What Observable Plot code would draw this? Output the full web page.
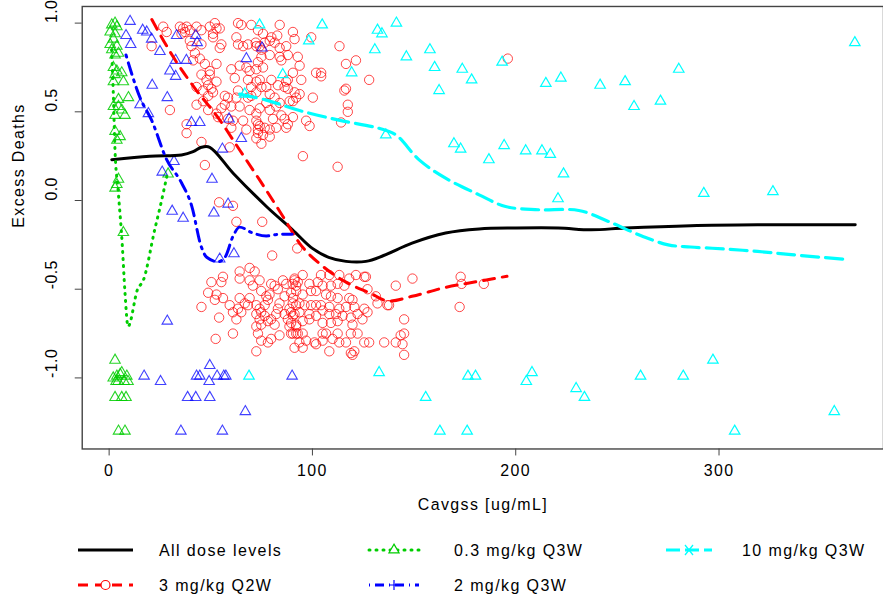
<!DOCTYPE html>
<html><head><meta charset="utf-8">
<script src="https://cdn.jsdelivr.net/npm/d3@7"></script>
<script src="https://cdn.jsdelivr.net/npm/@observablehq/plot@0.6"></script>
<style>
body{margin:0;background:#fff;overflow:hidden;font-family:"Liberation Sans",Arial,sans-serif}
#wrap{position:relative;width:883px;height:596px;overflow:hidden}
#chart{position:absolute;left:0;top:0}
#legend{position:absolute;left:0;top:530px}
</style></head><body><div id="wrap"><div id="chart"></div><svg id="legend" width="883" height="66"></svg></div>
<script>
// ---- data (x = Cavgss ug/mL, y = excess deaths) ----
const xTicks = [0, 100, 200, 300];
const yTicks = [-1, -0.5, 0, 0.5, 1];

const pts3Q2W = [
[26.6,0.98],[28.3,0.95],[34.8,0.98],[36.4,0.97],[38.1,0.98],[35.6,0.94],[37.3,0.95],[39.7,0.96],[43.0,0.98],[45.4,0.96],[49.5,0.98],[52.0,1.0],[52.8,0.97],[51.1,0.94],[54.4,0.97],[63.4,1.0],[65.0,0.99],[69.9,0.99],
[20.9,0.87],[39.7,0.90],[40.5,0.87],[45.4,0.88],[51.1,0.92],[55.2,0.88],[54.4,0.86],[62.6,0.92],[63.4,0.88],[65.9,0.87],[68.3,0.88],[72.1,0.89],
[42.2,0.83],[41.3,0.79],[44.6,0.80],[47.1,0.77],[52.8,0.77],[60.1,0.74],[64.2,0.76],[67.5,0.75],[69.1,0.73],[49.5,0.73],
[45.4,0.71],[49.5,0.71],[47.9,0.68],[48.7,0.65],[50.3,0.63],[52.8,0.67],[61.8,0.69],[63.4,0.62],[68.3,0.68],[69.9,0.64],[72.4,0.67],[43.0,0.64],
[46.2,0.62],[48.7,0.59],[51.1,0.61],[56.9,0.59],[58.5,0.58],[62.6,0.58],[69.9,0.59],[68.3,0.58],
[43.0,0.54],[46.2,0.56],[48.7,0.51],[52.8,0.49],[55.2,0.52],[56.9,0.54],[60.1,0.53],[64.2,0.53],[69.1,0.51],[72.4,0.49],
[29.9,0.51],[53.6,0.47],[58.5,0.46],[60.9,0.45],[65.9,0.45],[72.4,0.45],[73.2,0.43],
[38.1,0.43],[38.1,0.38],[60.1,0.41],[67.5,0.40],[73.2,0.40],[45.4,0.33],[59.3,0.30],[47.1,0.20],
[73.2,0.96],[83.9,0.99],[75.7,0.94],[79.8,0.92],[79.0,0.90],[81.4,0.89],[82.7,0.93],[90.4,0.95],[91.2,0.91],[99.4,0.92],
[72.4,0.87],[74.1,0.87],[76.5,0.89],[74.9,0.85],[87.1,0.87],[83.9,0.86],[83.9,0.81],[84.7,0.79],[87.9,0.82],[92.8,0.81],
[93.7,0.76],[74.9,0.81],[79.0,0.82],[73.2,0.78],[75.7,0.75],[72.4,0.74],[90.4,0.72],[101.8,0.72],[104.3,0.72],[104.3,0.70],
[94.5,0.68],[87.9,0.68],[87.1,0.67],[79.8,0.68],[74.1,0.68],[74.9,0.64],[77.3,0.64],[83.0,0.65],[86.3,0.64],[87.9,0.63],
[72.4,0.61],[79.0,0.60],[81.4,0.58],[91.2,0.61],[93.7,0.60],[92.0,0.58],[100.2,0.58],[90.4,0.56],[88.8,0.56],[83.9,0.55],
[82.2,0.53],[77.3,0.55],[74.1,0.52],[79.0,0.51],[90.4,0.47],[84.7,0.48],[86.3,0.46],[80.6,0.46],[87.9,0.43],[87.1,0.41],
[96.9,0.45],[98.6,0.42],[82.2,0.41],[79.0,0.40],[76.5,0.41],[74.1,0.42],[73.2,0.38],[75.7,0.37],[79.0,0.36],[72.4,0.35],
[74.9,0.32],[113.3,0.87],[116.5,0.77],[121.4,0.79],[115.7,0.62],[116.5,0.63],[117.4,0.54],[117.4,0.50],[114.1,0.44],
[95.3,0.25],[112.4,0.19],[127.9,0.68],[196.1,0.80],
[54.1,-0.01],[60.9,-0.03],[62.6,-0.12],[75.3,-0.12],[80.2,-0.31],[92.5,-0.27],
[172.9,-0.43],[173.4,-0.47],[184.3,-0.47],[172.4,-0.60],
[64.2,-0.40],[69.1,-0.38],[71.6,-0.40],[64.2,-0.44],[69.1,-0.45],[74.0,-0.45],[56.0,-0.43],[55.2,-0.46],[50.3,-0.46],[79.7,-0.47],
[70.7,-0.48],[74.8,-0.51],[48.7,-0.52],[52.8,-0.53],[56.0,-0.55],[52.0,-0.56],[45.4,-0.60],[59.3,-0.59],[64.2,-0.55],[66.7,-0.58],
[68.3,-0.59],[63.4,-0.61],[60.9,-0.63],[65.0,-0.63],[62.6,-0.67],[54.1,-0.66],[72.4,-0.59],[74.0,-0.61],[76.5,-0.59],[77.3,-0.54],
[78.9,-0.53],[78.1,-0.56],[81.4,-0.48],[83.0,-0.50],[85.5,-0.45],[87.1,-0.47],[86.3,-0.54],[83.8,-0.58],[83.0,-0.61],[82.2,-0.64],
[86.3,-0.64],[88.7,-0.61],[90.4,-0.55],[92.0,-0.59],[90.4,-0.65],[87.9,-0.67],[88.7,-0.71],[92.0,-0.71],[90.4,-0.75],[92.8,-0.75],
[83.8,-0.76],[79.7,-0.78],[78.1,-0.80],[74.8,-0.79],[73.2,-0.75],[72.4,-0.71],[74.0,-0.67],[76.5,-0.65],[78.1,-0.68],[74.8,-0.70],
[79.7,-0.67],[81.4,-0.70],[60.9,-0.75],[52.4,-0.78],[72.4,-0.85],[91.2,-0.45],[92.0,-0.48],[72.4,-0.64],[74.8,-0.63],[69.1,-0.55],
[91.2,-0.44],[95.2,-0.42],[90.3,-0.47],[92.8,-0.46],[98.5,-0.47],[102.6,-0.46],[104.2,-0.42],[108.3,-0.42],[113.2,-0.42],[118.1,-0.44],
[121.4,-0.42],[125.5,-0.43],[126.3,-0.43],[105.0,-0.48],[109.1,-0.48],[112.4,-0.47],[115.7,-0.48],[89.5,-0.52],[92.0,-0.51],[95.2,-0.53],
[99.3,-0.51],[101.8,-0.51],[106.7,-0.53],[109.1,-0.54],[112.4,-0.55],[118.1,-0.55],[119.7,-0.56],[127.1,-0.50],[131.2,-0.54],[132.0,-0.58],
[136.9,-0.59],[137.7,-0.59],[141.0,-0.48],[149.2,-0.44],[90.3,-0.58],[93.6,-0.58],[96.1,-0.59],[99.3,-0.59],[101.8,-0.59],[104.2,-0.59],
[108.3,-0.60],[113.2,-0.61],[116.5,-0.60],[120.6,-0.60],[125.5,-0.61],[89.5,-0.63],[91.2,-0.64],[93.6,-0.63],[98.5,-0.64],[101.8,-0.65],
[105.0,-0.62],[108.3,-0.64],[111.6,-0.64],[114.8,-0.65],[118.9,-0.66],[122.2,-0.64],[124.6,-0.67],[127.1,-0.63],[145.1,-0.67],[89.5,-0.69],
[92.0,-0.70],[95.2,-0.68],[98.5,-0.67],[105.0,-0.69],[109.1,-0.69],[112.4,-0.68],[119.7,-0.70],[89.5,-0.75],[92.0,-0.75],[95.2,-0.75],
[105.0,-0.75],[106.7,-0.75],[112.4,-0.75],[118.9,-0.75],[122.2,-0.75],[143.4,-0.76],[145.1,-0.75],[93.6,-0.80],[96.9,-0.79],[101.0,-0.80],
[105.0,-0.79],[109.9,-0.78],[113.2,-0.80],[116.5,-0.80],[125.5,-0.80],[135.3,-0.80],[141.0,-0.80],[144.3,-0.81],[91.2,-0.83],[95.2,-0.83],
[101.8,-0.81],[108.3,-0.85],[118.9,-0.86],[120.6,-0.85],[119.7,-0.87],[145.1,-0.87],[127.9,-0.80]
];

const pts03Q3W = [
[1.3,0.99],[2.9,1.0],[3.8,0.98],[0.5,0.95],[2.9,0.94],[2.1,0.91],[0.5,0.88],[3.8,0.87],[1.3,0.85],[4.6,0.83],
[2.9,0.82],[2.1,0.75],[3.8,0.73],[6.2,0.72],[2.9,0.71],[7.0,0.67],[2.1,0.67],[4.6,0.57],[9.5,0.58],[2.1,0.53],
[4.6,0.53],[6.2,0.51],[2.9,0.48],[7.8,0.48],[2.9,0.39],[5.4,0.36],[3.8,0.34],[4.6,0.12],[3.8,0.09],[2.9,0.07],
[7.0,-0.18],[29.0,0.15],
[2.9,-0.90],[3.8,-0.99],[6.2,-0.97],[2.0,-1.0],[8.7,-0.99],[4.4,-1.02],[7.4,-1.02],[9.3,-1.02],[5.4,-0.98],[3.4,-1.02],
[2.9,-1.11],[6.2,-1.11],[8.3,-1.11],[4.6,-1.30],[7.8,-1.30]
];

const pts2Q3W = [
[10.3,1.01],[8.3,0.93],[10.6,0.88],[16.5,0.96],[18.5,0.95],[20.9,0.91],[25,0.84],[33.2,0.93],[42.6,0.93],[43.3,0.89],
[32.7,0.79],[38,0.79],[29.9,0.73],[32.7,0.70],[21.2,0.65],[28.6,0.58],[15.2,0.54],[19.3,0.49],[40.5,0.44],[44.6,0.44],
[59,0.46],[65,0.35],[55.7,0.29],[31.9,0.22],[26.1,0.16],[50.6,0.12],[67.5,0.80],[75.2,0.86],[31,-0.06],[36.4,-0.10],
[51.5,-0.07],[58.5,-0.02],[54.4,-0.33],[61.4,-0.30],[28.6,-0.68],[49.5,-0.93],[17.2,-0.99],[25.3,-1.02],[43,-0.99],[44.6,-0.99],
[49.2,-1.02],[53.1,-0.99],[56.4,-0.99],[57.4,-0.99],[90,-0.99],[38.6,-1.11],[42.6,-1.11],[49.5,-1.11],[67,-1.19],[35.3,-1.30],[55.7,-1.30]
];

const pts10Q3W = [
[104.8,0.99],[132,0.96],[134.2,0.94],[141.3,1.0],[98.2,0.90],[130.7,0.85],[157.8,0.85],[146.2,0.81],[160.1,0.75],[173.7,0.74],
[193.3,0.78],[119.3,0.72],[85.4,0.71],[178.3,0.68],[162.3,0.62],[214.8,0.66],[222.2,0.69],[136.1,0.37],[169.6,0.32],[172.9,0.29],
[194.3,0.31],[186.8,0.23],[204.9,0.28],[212.9,0.28],[217,0.26],[223.5,0.15],[220.8,0.01],[74,0.99],[66.7,0.60],
[241.5,0.65],[253.8,0.67],[258.2,0.53],[271.2,0.56],[280.2,0.74],[366.8,0.89],[292.5,0.04],[326.5,0.05],
[132.8,-0.97],[155.7,-1.11],[176.5,-0.99],[180.2,-0.99],[208,-0.97],[205.2,-1.02],[229.7,-1.06],[162.7,-1.30],[176.1,-1.30],
[233.8,-1.11],[261.4,-0.99],[282.4,-0.99],[297,-0.90],[307.7,-1.30],[356.7,-1.19],[68.8,-0.99]
];

// smoothers
const fitAll = [[1.3,0.23],[20,0.25],[35.6,0.257],[41.3,0.275],[45.4,0.30],[49.5,0.30],[61,0.154],[77.5,-0.035],[90.2,-0.165],[100,-0.27],[108,-0.32],[116.5,-0.343],[126.3,-0.343],[135,-0.31],[149,-0.24],[165.5,-0.183],[182,-0.16],[200,-0.155],[221,-0.155],[237,-0.165],[254,-0.155],[286,-0.142],[319,-0.137],[367,-0.137]];
const fit3Q2W = [[21,1.02],[31.5,0.81],[43,0.62],[53.4,0.47],[64.2,0.285],[74,0.116],[85.5,-0.09],[93.6,-0.24],[105,-0.37],[116.5,-0.46],[128,-0.52],[137.7,-0.567],[149,-0.54],[165.5,-0.49],[182,-0.455],[195.7,-0.427]];
const fit03Q3W = [[1.2,0.85],[2.0,0.62],[2.9,0.28],[4.4,0.06],[6.4,-0.24],[7.8,-0.52],[9.3,-0.71],[14,-0.5],[16.8,-0.45],[22.5,-0.16],[25,-0.04],[29,0.17]];
const fit2Q3W = [[8.3,0.82],[15.2,0.58],[21,0.45],[28.3,0.23],[35.6,0.10],[40.6,-0.03],[45.3,-0.26],[48,-0.32],[53.6,-0.345],[57,-0.32],[61,-0.20],[64.2,-0.15],[70,-0.18],[77.3,-0.20],[84,-0.19],[90,-0.19]];
const fit10Q3W = [[64.2,0.60],[77.3,0.566],[92.8,0.51],[113,0.453],[132.8,0.407],[141,0.37],[152.5,0.229],[165.5,0.126],[182,0.032],[195,-0.034],[211,-0.052],[231,-0.056],[245.6,-0.118],[262,-0.2],[275,-0.25],[286,-0.262],[302.8,-0.273],[319,-0.287],[335.5,-0.305],[363,-0.333]];

const legendItems = [
  {label:"All dose levels", color:"black", dash:null, marker:null},
  {label:"0.3 mg/kg Q3W", color:"#00CD00", dash:"1,6", marker:"triangle"},
  {label:"10 mg/kg Q3W", color:"#00FFFF", dash:"14,5", marker:"x"},
  {label:"3 mg/kg Q2W", color:"#FF0000", dash:"10,7", marker:"circle"},
  {label:"2 mg/kg Q3W", color:"#0000FF", dash:"1,5,9,5", marker:"plus"}
];

// ---- chart ----
const X = d => d[0], Y = d => d[1];
const font = '"Liberation Sans", Arial, sans-serif';
const chart = Plot.plot({
  width: 886, height: 530,
  marginLeft: 82, marginRight: 0, marginTop: 6, marginBottom: 80,
  style: {fontFamily: font, fontSize: "16px", letterSpacing: "1.4px", background: "white", color: "black"},
  x: {domain: [-13.24, 380.9]},
  y: {domain: [-1.4006, 1.0938]},
  marks: [
    Plot.dot(pts3Q2W, {x: X, y: Y, r: 4.7, stroke: "#FF0000", strokeOpacity: 0.72, strokeWidth: 1, fill: "none"}),
    Plot.dot(pts03Q3W, {x: X, y: Y, symbol: "triangle", r: 3.9, stroke: "#00CD00", strokeOpacity: 0.85, strokeWidth: 1.1, fill: "none"}),
    Plot.dot(pts2Q3W, {x: X, y: Y, symbol: "triangle", r: 3.9, stroke: "#0000FF", strokeOpacity: 0.75, strokeWidth: 1.1, fill: "none"}),
    Plot.dot(pts10Q3W, {x: X, y: Y, symbol: "triangle", r: 3.9, stroke: "#00FFFF", strokeWidth: 1.2, fill: "none"}),
    Plot.line(fitAll, {x: X, y: Y, stroke: "black", strokeWidth: 3, curve: "catmull-rom"}),
    Plot.line(fit3Q2W, {x: X, y: Y, stroke: "#FF0000", strokeWidth: 3, strokeDasharray: "11,8", curve: "monotone-x"}),
    Plot.line(fit03Q3W, {x: X, y: Y, stroke: "#00CD00", strokeWidth: 3, strokeDasharray: "1,6", strokeLinecap: "round", curve: "monotone-x"}),
    Plot.line(fit2Q3W, {x: X, y: Y, stroke: "#0000FF", strokeWidth: 3, strokeDasharray: "2,6,12,6", curve: "monotone-x"}),
    Plot.line(fit10Q3W, {x: X, y: Y, stroke: "#00FFFF", strokeWidth: 3.2, strokeDasharray: "17,7", curve: "catmull-rom"}),
    Plot.frame({stroke: "#444", strokeWidth: 1.4}),
    Plot.axisX({ticks: xTicks, tickSize: 7, tickPadding: 9, label: null, stroke: "#444", fontSize: 16}),
    Plot.axisY({ticks: yTicks, tickSize: 7, tickFormat: () => "", label: null, stroke: "#444"}),
    Plot.text(yTicks, {y: d => d, text: d => d.toFixed(1), frameAnchor: "left", dx: -30, rotate: -90, fontSize: 16}),
    Plot.text(["Cavgss [ug/mL]"], {frameAnchor: "bottom", dy: 61, fontSize: 16}),
    Plot.text(["Excess Deaths"], {frameAnchor: "left", dx: -64, rotate: -90, fontSize: 16})
  ]
});
// tighter spacing for the rotated y tick labels
d3.select(chart).selectAll('g[aria-label="text"]').filter((d, i) => i === 0).style("letter-spacing", "0.4px");
document.getElementById("chart").appendChild(chart);

// ---- legend ----
const lg = d3.select("#legend").style("font-family", font).style("font-size", "16px").style("letter-spacing", "1.4px");
const cols = [[78, 133, 159], [369, 419, 454], [666, 712, 742]];
const rows = [20, 55];
legendItems.forEach((it, i) => {
  const c = cols[i % 3], yy = rows[Math.floor(i / 3)];
  const g = lg.append("g");
  g.append("line").attr("x1", c[0]).attr("x2", c[1]).attr("y1", yy).attr("y2", yy)
    .attr("stroke", it.color).attr("stroke-width", 3).attr("stroke-dasharray", it.dash)
    .attr("stroke-linecap", it.dash === "1,6" ? "round" : "butt");
  const mx = (c[0] + c[1]) / 2;
  if (it.marker === "triangle") {
    g.append("path").attr("d", d3.symbol(d3.symbolTriangle, 45)()).attr("transform", `translate(${mx},${yy})`)
      .attr("fill", "white").attr("stroke", it.color).attr("stroke-width", 1.2);
  } else if (it.marker === "circle") {
    g.append("circle").attr("cx", mx).attr("cy", yy).attr("r", 4.5).attr("fill", "white").attr("stroke", it.color).attr("stroke-width", 1.2);
  } else if (it.marker === "plus") {
    g.append("path").attr("d", `M${mx-5},${yy}H${mx+5}M${mx},${yy-5}V${yy+5}`).attr("stroke", it.color).attr("stroke-width", 1.2);
  } else if (it.marker === "x") {
    g.append("path").attr("d", `M${mx-4},${yy-5}L${mx+4},${yy+5}M${mx-4},${yy+5}L${mx+4},${yy-5}`).attr("stroke", it.color).attr("stroke-width", 1.3);
  }
  g.append("text").attr("x", c[2]).attr("y", yy).attr("dy", "0.35em").text(it.label);
});
</script>
</body></html>
